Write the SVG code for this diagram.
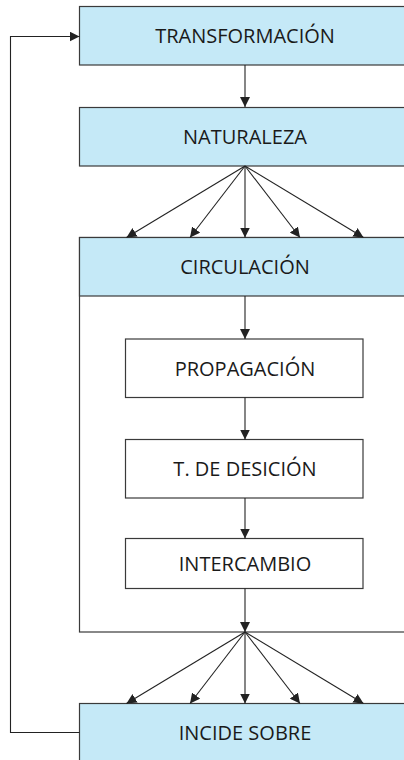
<svg xmlns="http://www.w3.org/2000/svg" width="404" height="760" viewBox="0 0 404 760">
<style>
.blue{fill:#c5e9f7;stroke:#3a3a3a;stroke-width:1.2}
.white{fill:#ffffff;stroke:#3a3a3a;stroke-width:1.2}
.lbl{font-family:"Open Sans","Noto Sans",sans-serif;font-size:20px;fill:#1a1a1a;text-anchor:middle}
.ln{fill:none;stroke:#222;stroke-width:1.1}
</style>
<defs>
<marker id="ah" markerUnits="userSpaceOnUse" markerWidth="10" markerHeight="10" viewBox="0 0 10 10" refX="10" refY="5" orient="auto">
<path d="M0,0 L10,5 L0,10 Z" fill="#222"/>
</marker>
</defs>
<rect width="404" height="760" fill="#ffffff"/>
<g id="container">
<rect class="white" x="79.5" y="237.5" width="340" height="394.5"/>
</g>
<g id="transformacion">
<rect class="blue" x="79.5" y="6.5" width="340" height="58.5"/>
<text class="lbl" x="245" y="43">TRANSFORMACIÓN</text>
</g>
<g id="naturaleza">
<rect class="blue" x="79.5" y="107.5" width="340" height="58.5"/>
<text class="lbl" x="245" y="144">NATURALEZA</text>
</g>
<g id="circulacion">
<rect class="blue" x="79.5" y="237.5" width="340" height="58.5"/>
<text class="lbl" x="245" y="274">CIRCULACIÓN</text>
</g>
<g id="propagacion">
<rect class="white" x="125.5" y="339" width="237.5" height="58.5"/>
<text class="lbl" x="245" y="375.5">PROPAGACIÓN</text>
</g>
<g id="decision">
<rect class="white" x="125.5" y="439.5" width="237.5" height="58.5"/>
<text class="lbl" x="245" y="476">T. DE DESICIÓN</text>
</g>
<g id="intercambio">
<rect class="white" x="125.5" y="538.5" width="237.5" height="50"/>
<text class="lbl" x="245" y="570.5">INTERCAMBIO</text>
</g>
<g id="incide">
<rect class="blue" x="79.5" y="703.5" width="340" height="70"/>
<text class="lbl" x="245" y="740">INCIDE SOBRE</text>
</g>
<g id="connectors">
<line class="ln" x1="245" y1="65" x2="245" y2="107" marker-end="url(#ah)"/>
<line class="ln" x1="245" y1="166" x2="126.5" y2="237.5" marker-end="url(#ah)"/>
<line class="ln" x1="245" y1="166" x2="190" y2="237.5" marker-end="url(#ah)"/>
<line class="ln" x1="245" y1="166" x2="245" y2="237.5" marker-end="url(#ah)"/>
<line class="ln" x1="245" y1="166" x2="300" y2="237.5" marker-end="url(#ah)"/>
<line class="ln" x1="245" y1="166" x2="363.5" y2="237.5" marker-end="url(#ah)"/>
<line class="ln" x1="245" y1="296" x2="245" y2="339" marker-end="url(#ah)"/>
<line class="ln" x1="245" y1="397.5" x2="245" y2="439.5" marker-end="url(#ah)"/>
<line class="ln" x1="245" y1="498" x2="245" y2="538.5" marker-end="url(#ah)"/>
<line class="ln" x1="245" y1="588.5" x2="245" y2="632" marker-end="url(#ah)"/>
<line class="ln" x1="245" y1="632" x2="126.5" y2="703.5" marker-end="url(#ah)"/>
<line class="ln" x1="245" y1="632" x2="190" y2="703.5" marker-end="url(#ah)"/>
<line class="ln" x1="245" y1="632" x2="245" y2="703.5" marker-end="url(#ah)"/>
<line class="ln" x1="245" y1="632" x2="300" y2="703.5" marker-end="url(#ah)"/>
<line class="ln" x1="245" y1="632" x2="363.5" y2="703.5" marker-end="url(#ah)"/>
<path class="ln" d="M79.5,732.5 H10.5 V36.5 H79.5" marker-end="url(#ah)"/>
</g>
</svg>
